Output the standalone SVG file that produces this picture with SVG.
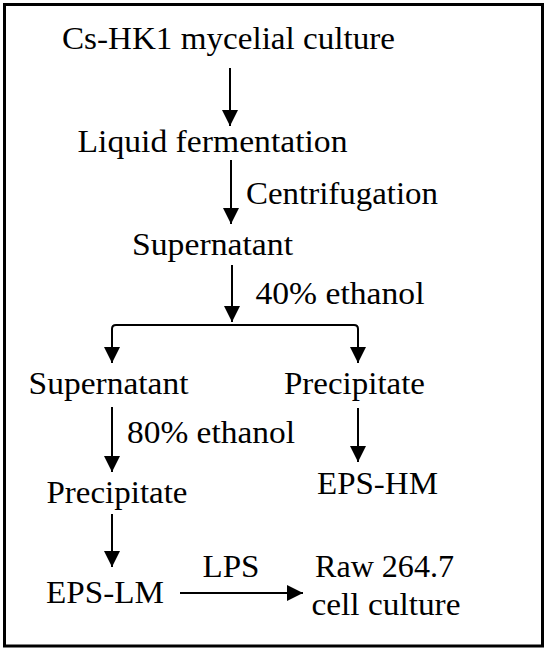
<svg xmlns="http://www.w3.org/2000/svg" width="550" height="653" viewBox="0 0 550 653">
  <style>
    .c { fill: none; stroke: #000; stroke-width: 2; }
  </style>
  <defs>
    <marker id="ah" markerUnits="userSpaceOnUse" markerWidth="16" markerHeight="16" refX="16" refY="8" orient="auto">
      <path d="M0,0 L16,8 L0,16 z" fill="#000"/>
    </marker>
  </defs>
  <rect x="4.5" y="4.5" width="538" height="641.5" fill="#fff" stroke="#000" stroke-width="3"/>

  <g id="connectors">
    <path class="c" d="M230,68 V126" marker-end="url(#ah)"/>
    <path class="c" d="M231,160 V224" marker-end="url(#ah)"/>
    <path class="c" d="M232,265 V322" marker-end="url(#ah)"/>
    <path class="c" d="M232,325 H116 Q112,325 112,329 V363" marker-end="url(#ah)"/>
    <path class="c" d="M232,325 H354 Q358,325 358,329 V363" marker-end="url(#ah)"/>
    <path class="c" d="M112,407 V472" marker-end="url(#ah)"/>
    <path class="c" d="M358,408 V462" marker-end="url(#ah)"/>
    <path class="c" d="M112,514 V567" marker-end="url(#ah)"/>
    <path class="c" d="M180,593 H303" marker-end="url(#ah)"/>
  </g>

  <g font-family="Liberation Serif" font-size="32.5" fill="#000" lengthAdjust="spacingAndGlyphs">
  <g id="n-mycelial"><text x="62" y="48.5" textLength="333" lengthAdjust="spacingAndGlyphs">Cs-HK1 mycelial culture</text></g>
  <g id="n-liquid"><text x="77.5" y="151.5" textLength="270" lengthAdjust="spacingAndGlyphs">Liquid fermentation</text></g>
  <g id="l-centrifugation"><text x="246" y="203.5" textLength="192" lengthAdjust="spacingAndGlyphs">Centrifugation</text></g>
  <g id="n-supernatant1"><text x="132" y="255" textLength="161" lengthAdjust="spacingAndGlyphs">Supernatant</text></g>
  <g id="l-40"><text x="255.5" y="303.5" textLength="169" lengthAdjust="spacingAndGlyphs">40% ethanol</text></g>
  <g id="n-supernatant2"><text x="28.5" y="393.5" textLength="160" lengthAdjust="spacingAndGlyphs">Supernatant</text></g>
  <g id="n-precipitate1"><text x="284" y="393.5" textLength="141" lengthAdjust="spacingAndGlyphs">Precipitate</text></g>
  <g id="l-80"><text x="127" y="442.5" textLength="168" lengthAdjust="spacingAndGlyphs">80% ethanol</text></g>
  <g id="n-precipitate2"><text x="46.5" y="502.5" textLength="141" lengthAdjust="spacingAndGlyphs">Precipitate</text></g>
  <g id="n-epshm"><text x="317" y="493.5" textLength="121" lengthAdjust="spacingAndGlyphs">EPS-HM</text></g>
  <g id="n-epslm"><text x="46" y="603" textLength="118" lengthAdjust="spacingAndGlyphs">EPS-LM</text></g>
  <g id="l-lps"><text x="202.5" y="576.5" textLength="57" lengthAdjust="spacingAndGlyphs">LPS</text></g>
  <g id="n-raw"><text x="315" y="576.5" textLength="139" lengthAdjust="spacingAndGlyphs">Raw 264.7</text><text x="311.5" y="615" textLength="149" lengthAdjust="spacingAndGlyphs">cell culture</text></g>
  </g>
</svg>
